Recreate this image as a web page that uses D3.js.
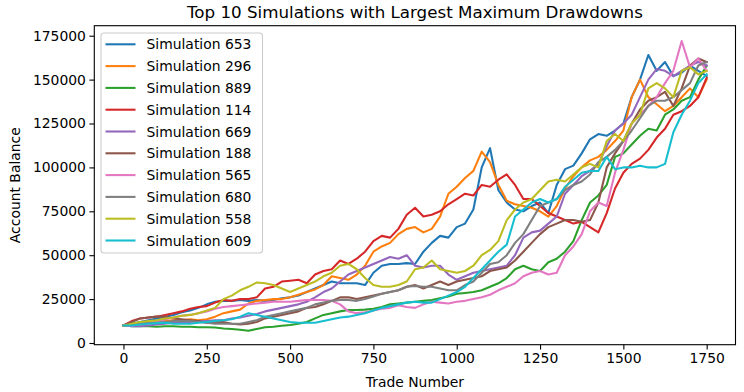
<!DOCTYPE html>
<html><head><meta charset="utf-8">
<script src="https://cdn.jsdelivr.net/npm/d3@7"></script>
<style>body{margin:0;background:#fff}svg{display:block}</style>
</head><body>
<svg id="chart" width="744" height="392"></svg>
<script>
// Trade numbers sampled every 25 trades (0..1750)
const trades = d3.range(0, 1751, 25);
const sim653 = [10,11,12,13,14,15,16,17.5,18.5,20,22,23.5,24,24,24.5,24,24.5,24,24.5,25.5,26,27,29,31,33,35,34,34,34,33,40,44,45,45,45.5,45,52,57,61,60,66,68,76,100,111,87,80,76,75,78,80,74,90,99,101,108,116,119,118,121,125,140,150,164,155,160,152,154,158,155,152];
const sim296 = [10,10.5,11,11.5,12,12.5,13,13,13.5,13,13.5,15,17,18,19,22.5,24,24.5,25,25,26,27.5,29,30.5,33,38,37,36,39,44,52,55,57,62,65,66,63,65,72,85,89,94,98,109,103,90,81,79,78,77,75,72,78,88,95,100,104,106,110,115,121,140,150,140,136,132,135,140,145,140,150];
const sim889 = [10,9.5,9.5,9.5,9.3,9.5,9.5,9.3,9.3,9,9,8.8,8.3,8,7.5,7,8,9,9.3,9.8,10.2,11,12,14,16,17,18,18.8,18.8,19,19.5,20.5,22,22.5,23,23.5,24,24.5,25.5,26.5,28,28.5,29,30,32,34,37,42,44,42,41,46,48,52,58,70,80,84,90,106,108,113,118,122,121,130,133,138,140,150,158];
const sim114 = [10,12.5,14,14.5,15,16,17,18,19.5,20.5,21,23,24.5,24,25,25,26,31,32,35,35.5,36,34,39,41,42,47,45,48,52,58,61,60,65,73,77,72,73,75,79,82,85,84,90,89,93,96,90,82,82,78,74,72,70,68,69,66,63,74,88,97,102,105,110,117,122,130,132,135,140,151];
const sim669 = [10,9.5,9.5,10,10.5,11,11.5,12,12,12.5,12.5,13,13,14,14.5,15.5,16.5,18,19,20,21,22,23.5,26,29,31,35,39,41,43,45,47,49,48,50,44,43,44,44,39,36,38,40,41,42,43,44,50,60,63,64,68,72,85,90,95,98,102,112,121,125,130,140,150,156,155,152,155,158,160,158];
const sim188 = [10,12,14,14.5,15,15,14,13.5,13,12.5,11.5,12,12,11,10.5,11,12,14,15,16,17,18,20,20.5,22,24,26,26,25,26,27,28,29,30,32,33,31,33,35,33,35,36,37,38,41,42,43,47,52,57,62,66,68,70,70,69,70,80,100,108,115,125,133,138,140,143,135,145,158,162,160];
const sim565 = [10,10,10.5,11,12,13.5,14.5,15.5,16,17,18,19.5,20.5,21,21.5,22,22.5,23,23.5,23.5,23.5,24,24.5,24.5,24.5,24,22,18,17,17.5,18.5,19.5,20,21.5,20.5,20,22,23.5,23,22.5,23.5,24,25,26,27.5,30,32,34,38,40,41,39,40,50,55,62,75,80,78,97,110,125,130,135,140,148,155,172,157,162,155];
const sim680 = [10,10.5,11,11.5,11.5,12,12.5,12.5,12.5,12,11.5,11,11,11,11,12,13,15,16,17,18,19,20,22,23,24,24.5,24.5,24,25,26.5,28,29,30,32,32.5,32,32,31,30,30,33,35,40,45,46,50,57,62,70,78,80,82,87,90,92,96,103,106,110,115,121,128,135,138,138,140,144,148,158,160];
const sim558 = [10,11,12,12.5,13,14,14.5,15.5,16,17,18.5,20,25,27,30,32,34.5,34,33,31,29,31,33,35,38,40,44,45,42,37,33,32,32,33,35,42,43,47,42,41,40,41,44,50,53,58,70,76,80,82,87,92,93,92,96,100,102,100,115,119,115,125,130,145,148,145,140,155,157,153,155];
const sim609 = [10,10,10.5,11,11.3,11.5,11,11,11,11.5,12,12.5,13,13.5,15,17,16,15,14,13,12,11.5,11.5,11.5,12.5,13.5,14.5,15,16,17,18.5,20,21,22,23,23.5,23,23,25,27,29,32,37,42,47,52,56,72,76,80,82,80,82,89,93,97,98,98,106,99,100,100,101,100,100,102,120,130,138,148,153];

const seriesNames = ["Simulation 653","Simulation 296","Simulation 889","Simulation 114","Simulation 669","Simulation 188","Simulation 565","Simulation 680","Simulation 558","Simulation 609"];
const seriesValues = [sim653, sim296, sim889, sim114, sim669, sim188, sim565, sim680, sim558, sim609];
const colors = ["#1f77b4","#ff7f0e","#2ca02c","#d62728","#9467bd","#8c564b","#e377c2","#7f7f7f","#bcbd22","#17becf"];
const xTicks = [0,250,500,750,1000,1250,1500,1750];
const yTicks = [0,25000,50000,75000,100000,125000,150000,175000];
const titleText = "Top 10 Simulations with Largest Maximum Drawdowns";
const xLabel = "Trade Number";
const yLabel = "Account Balance";

const svg = d3.select("#chart");
const font = "DejaVu Sans, sans-serif";
const L = 94.3, R = 735.5, T = 25.7, B = 344.7;

const x = d3.scaleLinear().domain([-87.5, 1836.5]).range([L, R]);
const y = d3.scaleLinear().domain([-970, 180700]).range([B, T]);

// lines
const line = d3.line().x(d => x(d[0])).y(d => y(d[1] * 1000));
const g = svg.append("g");
seriesValues.forEach((vals, i) => {
  g.append("path")
    .datum(trades.map((t, k) => [t, vals[k]]))
    .attr("d", line)
    .attr("fill", "none")
    .attr("stroke", colors[i])
    .attr("stroke-width", 2.08)
    .attr("stroke-linejoin", "round")
    .attr("stroke-linecap", "square");
});

// frame
svg.append("rect").attr("x", L).attr("y", T).attr("width", R - L).attr("height", B - T)
  .attr("fill", "none").attr("stroke", "#000").attr("stroke-width", 1.1);

// axes
const xAxis = d3.axisBottom(x).tickValues(xTicks).tickSize(4.9).tickPadding(3.5).tickFormat(d3.format("d"));
const gx = svg.append("g").attr("transform", `translate(0,${B})`).call(xAxis);
const yAxis = d3.axisLeft(y).tickValues(yTicks).tickSize(4.9).tickPadding(3.5).tickFormat(d3.format("d"));
const gy = svg.append("g").attr("transform", `translate(${L},0)`).call(yAxis);
[gx, gy].forEach(a => {
  a.select(".domain").remove();
  a.selectAll(".tick line").attr("stroke", "#000").attr("stroke-width", 1.1);
  a.selectAll(".tick text").attr("fill", "#000").style("font-family", font).style("font-size", "13.9px");
});

// titles
svg.append("text").attr("x", (L + R) / 2).attr("y", 17.5).attr("text-anchor", "middle")
  .style("font-family", font).style("font-size", "16.7px").attr("fill", "#000").text(titleText);
svg.append("text").attr("x", (L + R) / 2).attr("y", 387).attr("text-anchor", "middle")
  .style("font-family", font).style("font-size", "13.9px").attr("fill", "#000").text(xLabel);
svg.append("text").attr("transform", `translate(20,${(T + B) / 2}) rotate(-90)`).attr("text-anchor", "middle")
  .style("font-family", font).style("font-size", "13.9px").attr("fill", "#000").text(yLabel);

// legend
const lg = svg.append("g");
lg.append("rect").attr("x", 101).attr("y", 33).attr("width", 161.5).attr("height", 220).attr("rx", 3)
  .attr("fill", "#fff").attr("fill-opacity", 0.8).attr("stroke", "#cccccc").attr("stroke-width", 1.1);
seriesNames.forEach((name, i) => {
  const cy = 44.3 + i * 21.8;
  lg.append("line").attr("x1", 105.5).attr("x2", 135.5).attr("y1", cy).attr("y2", cy)
    .attr("stroke", colors[i]).attr("stroke-width", 2.08);
  lg.append("text").attr("x", 146.5).attr("y", cy).attr("dy", "0.36em")
    .style("font-family", font).style("font-size", "13.9px").attr("fill", "#000").text(name);
});
</script>
</body></html>
